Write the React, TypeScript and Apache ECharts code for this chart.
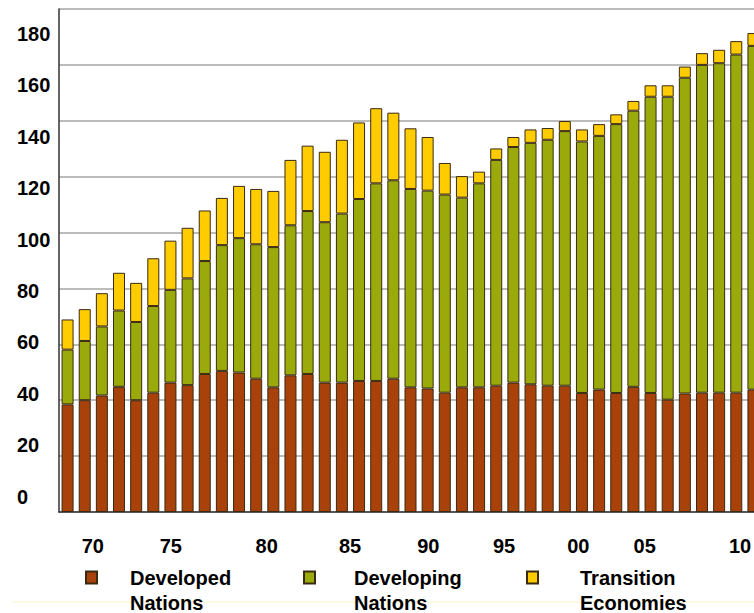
import React, { useEffect, useRef } from "react";
import * as echarts from "echarts";

const years = [
  "1970", "1971", "1972", "1973", "1974", "1975", "1976", "1977", "1978", "1979",
  "1980", "1981", "1982", "1983", "1984", "1985", "1986", "1987", "1988", "1989",
  "1990", "1991", "1992", "1993", "1994", "1995", "1996", "1997", "1998", "1999",
  "2000", "2001", "2002", "2003", "2004", "2005", "2006", "2007", "2008", "2009",
  "2010",
];

const developed = [
  38.5, 40, 41.7, 44.8, 40, 42.7, 46.3, 45.4, 49.4, 50.5,
  49.9, 47.7, 44.6, 48.9, 49.4, 46.3, 46.3, 46.9, 46.9, 47.7,
  44.6, 44.2, 42.7, 44.6, 44.6, 45.2, 46.3, 45.7, 45.2, 45.2,
  42.6, 43.8, 42.6, 44.8, 42.6, 40.2, 42.4, 42.7, 42.7, 42.7,
  43.8,
];

const developing = [
  19.6, 21.2, 24.7, 27.3, 28, 31, 33.2, 38.2, 40.4, 45,
  48.1, 48.1, 50.2, 53.7, 58.3, 57.4, 60.5, 65.1, 70.7, 71,
  71, 70.8, 70.9, 67.9, 73, 80.8, 84.3, 86.4, 88, 91.1,
  90, 90.8, 96.2, 98.8, 106, 108.4, 113, 117.3, 117.9, 121,
  123,
];

const transition = [
  10.8, 11.4, 11.9, 13.5, 14, 17.1, 17.6, 18.1, 18.1, 16.9,
  18.7, 19.8, 20.1, 23.4, 23.4, 25.2, 26.4, 27.4, 26.9, 24.2,
  21.7, 19.2, 11.3, 7.7, 4.2, 4.1, 3.6, 4.8, 4.2, 3.6,
  4.3, 4.2, 3.5, 3.5, 4.1, 4.1, 4, 4.2, 4.8, 4.8,
  4.6,
];

const seriesNames = ["Developed\nNations", "Developing\nNations", "Transition\nEconomies"];
const xTickLabels = ["70", "75", "80", "85", "90", "95", "00", "05", "10"];
const yTickLabels = ["0", "20", "40", "60", "80", "100", "120", "140", "160", "180"];

// layout-only: horizontal nudges of the year labels (px)
const xLabelNudge = [-7.5, -9.3, 6.8, 10.3, 8.8, 4.7, -0.8, -14.2, 1.3];

const COLORS = ["#A8410A", "#9BAA0B", "#FFCC00"];
const BORDER = "#3a2a12";
const FONT = "'Liberation Sans', Arial, sans-serif";

export default function App() {
  const ref = useRef<HTMLDivElement>(null);

  useEffect(() => {
    if (!ref.current) return;
    const chart = echarts.init(ref.current, undefined, { renderer: "svg" });

    const rich: Record<string, any> = {};
    xLabelNudge.forEach((s, i) => {
      rich["x" + i] = {
        fontFamily: FONT,
        fontSize: 20,
        fontWeight: "bold",
        color: "#000",
        padding: s >= 0 ? [0, 0, 0, 2 * s] : [0, -2 * s, 0, 0],
      };
    });

    const seriesData = [developed, developing, transition];

    const legendLefts = [85, 303, 526];
    const legendPads = [28, 34, 37];

    const option: any = {
      animation: false,
      backgroundColor: "#ffffff",
      grid: [
        { left: 59, width: 703, top: 9, bottom: 101, outerBoundsMode: "none", containLabel: false },
        { left: 100.3, right: 15.3, top: 34, bottom: 116.3, outerBoundsMode: "none", containLabel: false },
      ],
      xAxis: [
        {
          type: "category",
          gridIndex: 0,
          data: years,
          axisLabel: { show: false },
          axisTick: { show: false },
          axisLine: { show: true, lineStyle: { color: "#333", width: 1.5 } },
        },
        {
          type: "value",
          gridIndex: 1,
          min: 1970,
          max: 2010,
          interval: 5,
          axisLine: { show: false },
          axisTick: { show: false },
          splitLine: { show: false },
          axisLabel: {
            margin: 39,
            fontFamily: FONT,
            fontSize: 20,
            fontWeight: "bold",
            color: "#000",
            formatter: (v: number) => {
              const i = Math.round((v - 1970) / 5);
              return "{x" + i + "|" + xTickLabels[i] + "}";
            },
            rich,
          },
        },
      ],
      yAxis: [
        {
          type: "value",
          gridIndex: 0,
          min: 0,
          max: 180,
          interval: 20,
          axisLabel: { show: false },
          axisTick: { show: false },
          axisLine: { show: true, lineStyle: { color: "#333", width: 1.5 } },
          splitLine: { show: true, lineStyle: { color: "#a6a6a6", width: 1.5 } },
        },
        {
          type: "value",
          gridIndex: 1,
          min: 0,
          max: 180,
          interval: 20,
          axisLine: { show: false },
          axisTick: { show: false },
          splitLine: { show: false },
          axisLabel: {
            margin: 83.3,
            align: "left",
            fontFamily: FONT,
            fontSize: 20,
            fontWeight: "bold",
            color: "#000",
            formatter: (v: number) => yTickLabels[Math.round(v / 20)],
          },
        },
      ],
      legend: seriesNames.map((n, i) => ({
        data: [n],
        left: legendLefts[i],
        top: 540,
        padding: 0,
        itemWidth: 11,
        itemHeight: 12,
        icon: "rect",
        selectedMode: false,
        formatter: (name: string) => " \n" + name,
        textStyle: {
          fontFamily: FONT,
          fontSize: 20,
          fontWeight: "bold",
          color: "#000",
          lineHeight: 25,
          padding: [0, 0, 0, legendPads[i]],
        },
      })),
      graphic: [
        {
          type: "line",
          shape: { x1: 12, y1: 602, x2: 754, y2: 602 },
          style: { stroke: "#f8f2c6", lineWidth: 1 },
          silent: true,
        },
      ],
      series: [
        ...seriesNames.map((n, i) => ({
          type: "bar",
          name: n,
          stack: "total",
          xAxisIndex: 0,
          yAxisIndex: 0,
          barWidth: 12,
          data: seriesData[i],
          itemStyle: { color: COLORS[i], borderColor: BORDER, borderWidth: 1 },
          emphasis: { disabled: true },
        })),
        {
          type: "scatter",
          name: "_labels",
          xAxisIndex: 1,
          yAxisIndex: 1,
          data: [],
          silent: true,
        },
      ],
    };

    chart.setOption(option);
    return () => chart.dispose();
  }, []);

  return (
    <div
      ref={ref}
      style={{ position: "fixed", left: 0, top: 0, width: 754, height: 613 }}
    />
  );
}
